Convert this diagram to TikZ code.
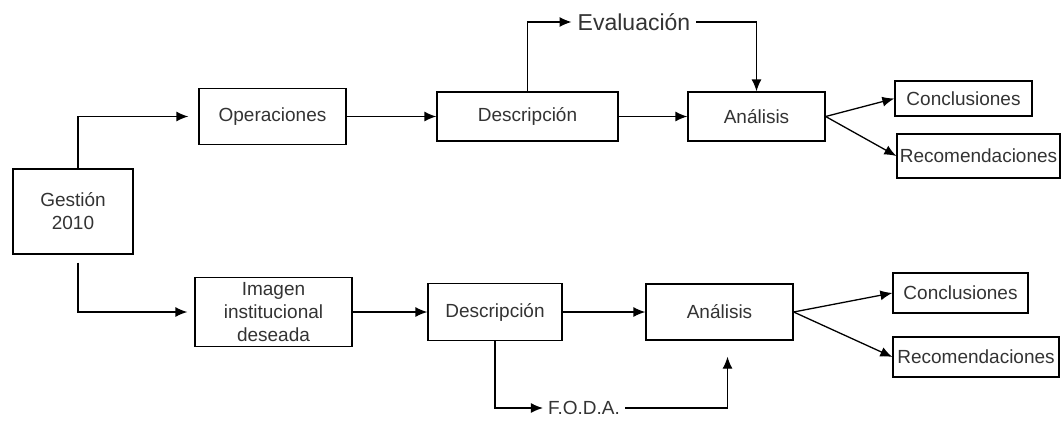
\documentclass[tikz,border=0pt]{standalone}
\usepackage{fontspec}
\setmainfont{Liberation Sans}
\usepackage{tikz}
\usepackage{xcolor}
\usetikzlibrary{arrows.meta,positioning}
\definecolor{txtgray}{HTML}{333333}

\begin{document}
\begin{tikzpicture}[x=1pt,y=-1pt,
		caja/.style={draw, line width=1.3pt, rectangle, align=center, text=txtgray, inner sep=0pt, font=\fontsize{19}{23}\selectfont},
		libre/.style={text=txtgray, inner sep=3pt, font=\fontsize{19}{23}\selectfont},
		flecha/.style={line width=1.3pt, -{Latex[length=12pt,width=10pt]}}]
		\useasboundingbox (0,0) rectangle (1062,420);
		\node[caja, minimum width=120pt, minimum height=85pt] (gestion) at (73,211.5) {Gesti\'on\\2010};
		\node[caja, minimum width=147pt, minimum height=56pt] (oper) at (272.5,116.5) {Operaciones};
		\node[caja, minimum width=181pt, minimum height=49pt] (descA) at (527.5,116.5) {Descripci\'on};
		\node[caja, minimum width=137pt, minimum height=49pt] (analA) at (756.5,116.5) {An\'alisis};
		\node[caja, minimum width=137pt, minimum height=35pt] (concA) at (963.5,98.5) {Conclusiones};
		\node[caja, minimum width=163pt, minimum height=44pt] (recoA) at (978.5,156) {Recomendaciones};
		\node[libre, font=\fontsize{23}{26}\selectfont, inner xsep=6pt] (evalu) at (634,22) {Evaluaci\'on};
		\node[caja, minimum width=157pt, minimum height=69pt] (imagen) at (273.5,312) {Imagen\\institucional\\deseada};
		\node[caja, minimum width=134pt, minimum height=57pt] (descB) at (495,312) {Descripci\'on};
		\node[caja, minimum width=147pt, minimum height=56pt] (analB) at (719.5,312) {An\'alisis};
		\node[caja, minimum width=135pt, minimum height=40pt] (concB) at (960.5,293) {Conclusiones};
		\node[caja, minimum width=166pt, minimum height=40pt] (recoB) at (976,357) {Recomendaciones};
		\node[libre, inner xsep=5pt] (foda) at (584,408) {F.O.D.A.};
		\draw[flecha, shorten >=10pt] ([xshift=5pt]gestion.north) |- (oper.west);
		\draw[flecha, shorten >=7pt] ([xshift=5pt,yshift=-8pt]gestion.south) |- (imagen.west);
		\draw[flecha] (oper.east) -- (descA.west);
		\draw[flecha] (descA.east) -- (analA.west);
		\draw[flecha] (descA.north) |- (evalu.west);
		\draw[flecha] (evalu.east) -| (analA.north);
		\draw[flecha] (analA.east) -- (concA.west);
		\draw[flecha] (analA.east) -- (recoA.west);
		\draw[flecha] (imagen.east) -- (descB.west);
		\draw[flecha] (descB.east) -- (analB.west);
		\draw[flecha] (descB.south) |- (foda.west);
		\draw[flecha, shorten >=16pt] (foda.east) -| ([xshift=8pt]analB.south);
		\draw[flecha] (analB.east) -- (concB.west);
		\draw[flecha] (analB.east) -- (recoB.west);
	\end{tikzpicture}
\end{document}
